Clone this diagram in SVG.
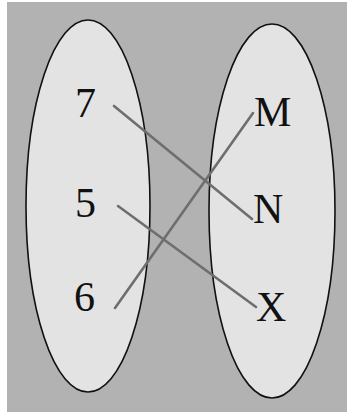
<svg xmlns="http://www.w3.org/2000/svg" width="347" height="414" viewBox="0 0 347 414">
<style>
.set{fill:#e3e3e3;stroke:#111;stroke-width:1.6}
.lbl{font-family:"Liberation Serif",serif;font-size:42px;fill:#111}
.edge{stroke:#6e6e6e;stroke-width:2.6;stroke-linecap:round;fill:none}
</style>
<rect x="0" y="0" width="347" height="414" fill="#ffffff"/>
<rect x="7" y="2" width="340" height="410" fill="#b2b2b2"/>
<g id="setA"><ellipse class="set" cx="88" cy="206" rx="62" ry="186"/></g>
<g id="setB"><ellipse class="set" cx="272" cy="211" rx="63" ry="187"/></g>
<g id="n7"><text class="lbl" x="75" y="117">7</text></g>
<g id="n5"><text class="lbl" x="75" y="217">5</text></g>
<g id="n6"><text class="lbl" x="74" y="311">6</text></g>
<g id="nM"><text class="lbl" x="254" y="126">M</text></g>
<g id="nN"><text class="lbl" x="253" y="223">N</text></g>
<g id="nX"><text class="lbl" x="256" y="321">X</text></g>
<g id="edges">
<line class="edge" x1="114" y1="106" x2="252" y2="219"/>
<line class="edge" x1="118" y1="206" x2="256" y2="307"/>
<line class="edge" x1="115" y1="308" x2="253" y2="113"/>
</g>
</svg>
